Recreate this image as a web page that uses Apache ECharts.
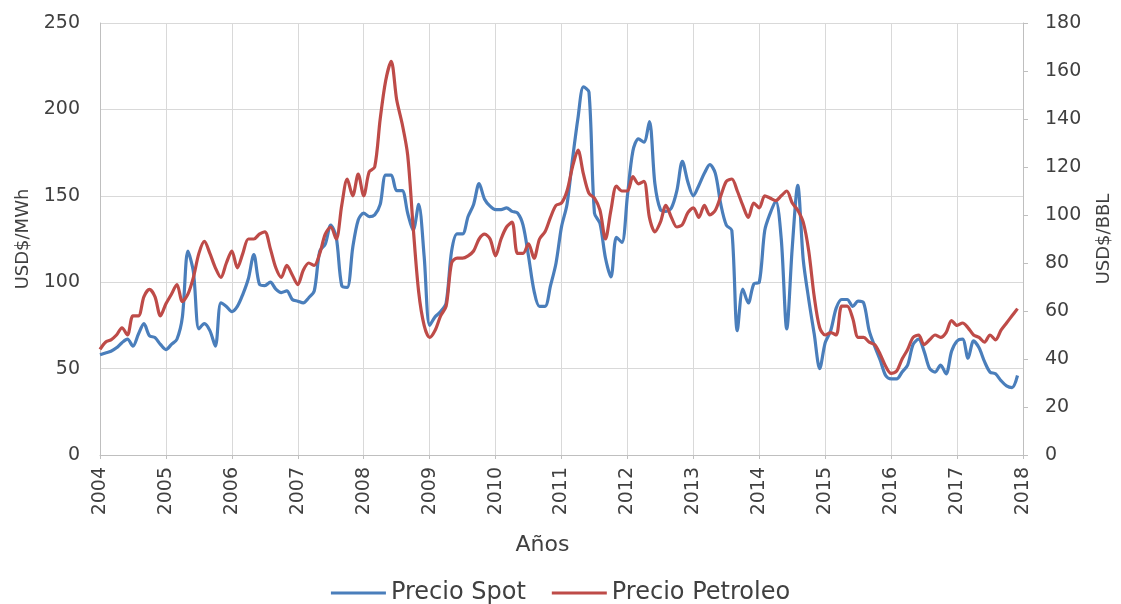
<!DOCTYPE html>
<html>
<head>
<meta charset="utf-8">
<script src="https://cdn.jsdelivr.net/npm/echarts@6/dist/echarts.min.js"></script>
<style>
  html, body { margin: 0; padding: 0; background: #fff; }
  #root { width: 1121px; height: 604px; }
</style>
</head>
<body>
<div id="root"></div>
<script>
// serie mensual, enero 2004 - diciembre 2017
const startYear = 2004
const years = [2004, 2005, 2006, 2007, 2008, 2009, 2010, 2011, 2012, 2013, 2014, 2015, 2016, 2017, 2018]

// Precio Spot (USD$/MWh), eje izquierdo
const spot = [
  58, 59, 60, 62, 65, 67, 63, 70, 76, 69, 68, 64,        // 2004
  61, 64, 67, 80, 118, 106, 73, 76, 72, 63, 88, 86,      // 2005
  83, 86, 93, 102, 116, 99, 98, 100, 96, 94, 95, 90,     // 2006
  89, 88, 91, 95, 118, 122, 133, 126, 98, 97, 120, 136,  // 2007
  140, 138, 139, 145, 162, 162, 153, 153, 140, 130, 145, 115, // 2008
  75, 80, 83, 88, 118, 128, 128, 138, 145, 157, 148, 144,     // 2009
  142, 142, 143, 141, 140, 133, 115, 95, 86, 86, 98, 111,     // 2010
  132, 145, 171, 195, 213, 210, 140, 134, 114, 103, 126, 123, // 2011
  150, 176, 183, 181, 193, 157, 142, 141, 143, 153, 170, 158, // 2012
  150, 156, 163, 168, 163, 145, 133, 130, 72, 96, 88, 99,     // 2013
  100, 130, 140, 147, 125, 73, 120, 156, 113, 90, 70, 50,     // 2014
  65, 72, 85, 90, 90, 86, 89, 88, 72, 63, 55, 46,             // 2015
  44, 44, 48, 52, 64, 67, 60, 50, 48, 52, 47, 60,             // 2016
  66, 67, 56, 66, 62, 54, 48, 47, 43, 40, 39, 46              // 2017
]

// Precio Petroleo (USD$/BBL), eje derecho
const petroleo = [
  44, 47, 48, 50, 53, 50, 58, 58, 66, 69, 66, 58,        // 2004
  63, 67, 71, 64, 67, 74, 84, 89, 84, 78, 74, 80,        // 2005
  85, 78, 84, 90, 90, 92, 93, 86, 78, 74, 79, 75,        // 2006
  71, 77, 80, 79, 84, 92, 95, 90, 104, 115, 108, 117,    // 2007
  108, 118, 120, 140, 156, 164, 148, 138, 125, 95, 68, 54, // 2008
  49, 52, 58, 62, 80, 82, 82, 83, 85, 90, 92, 90,          // 2009
  83, 90, 95, 97, 84, 84, 88, 82, 90, 93, 99, 104,         // 2010
  105, 110, 120, 127, 117, 109, 107, 102, 90, 102, 112, 110, // 2011
  110, 116, 113, 114, 99, 93, 97, 104, 99, 95, 96, 101,      // 2012
  103, 99, 104, 100, 102, 108, 114, 115, 110, 104, 99, 105,  // 2013
  103, 108, 107, 106, 108, 110, 105, 102, 97, 85, 66, 53,    // 2014
  50, 51, 50, 62, 62, 57, 49, 49, 47, 46, 42, 37,            // 2015
  34, 35, 40, 44, 49, 50, 46, 48, 50, 49, 51, 56,            // 2016
  54, 55, 53, 50, 49, 47, 50, 48, 52, 55, 58, 61             // 2017
]

const toSeries = (arr) => arr.map((v, i) => [startYear + i / 12, v])

const font = 'DejaVu Sans'
const gray = '#404040'
const lineGray = '#bfbfbf'

const chart = echarts.init(document.getElementById('root'))

chart.setOption({
  animation: false,
  textStyle: { fontFamily: font },
  grid: { left: 100, right: 90, top: 23, bottom: 149 },
  legend: {
    bottom: -6,
    left: 'center',
    itemWidth: 55,
    itemHeight: 3,
    itemGap: 26,
    icon: 'rect',
    textStyle: { fontSize: 24, color: gray, fontFamily: font },
    data: ['Precio Spot', 'Precio Petroleo']
  },
  xAxis: {
    type: 'value',
    min: years[0],
    max: years[years.length - 1],
    interval: 1,
    name: 'Años',
    nameLocation: 'middle',
    nameGap: 79,
    // en el original el título queda algo a la izquierda del centro
    nameTextStyle: { fontSize: 22, color: gray, padding: [0, 38, 0, 0] },
    axisLine: { lineStyle: { color: lineGray } },
    axisTick: { show: true, length: 4, lineStyle: { color: lineGray } },
    axisLabel: { rotate: 90, fontSize: 19, color: gray, margin: 12, formatter: (v) => String(v) },
    splitLine: { show: true, lineStyle: { color: '#d9d9d9' } }
  },
  yAxis: [
    {
      type: 'value',
      min: 0,
      max: 250,
      interval: 50,
      name: 'USD$/MWh',
      nameLocation: 'middle',
      nameRotate: 90,
      nameGap: 68,
      nameTextStyle: { fontSize: 18, color: gray },
      axisLine: { show: true, lineStyle: { color: lineGray } },
      axisTick: { show: false },
      axisLabel: { fontSize: 19, color: gray, margin: 20 },
      splitLine: { show: true, lineStyle: { color: '#d9d9d9' } }
    },
    {
      type: 'value',
      min: 0,
      max: 180,
      interval: 20,
      position: 'right',
      name: 'USD$/BBL',
      nameLocation: 'middle',
      nameRotate: 90,
      nameGap: 72,
      nameTextStyle: { fontSize: 18, color: gray },
      axisLine: { show: true, lineStyle: { color: lineGray } },
      axisTick: { show: true, length: 5, lineStyle: { color: lineGray } },
      axisLabel: { fontSize: 19, color: gray, margin: 22 },
      splitLine: { show: false }
    }
  ],
  series: [
    {
      name: 'Precio Spot',
      type: 'line',
      yAxisIndex: 0,
      data: toSeries(spot),
      smooth: 0.3,
      showSymbol: false,
      lineStyle: { width: 3.2, color: '#4a7ebb' },
      itemStyle: { color: '#4a7ebb' }
    },
    {
      name: 'Precio Petroleo',
      type: 'line',
      yAxisIndex: 1,
      data: toSeries(petroleo),
      smooth: 0.3,
      showSymbol: false,
      lineStyle: { width: 3.2, color: '#be4b48' },
      itemStyle: { color: '#be4b48' }
    }
  ]
})
</script>
</body>
</html>
